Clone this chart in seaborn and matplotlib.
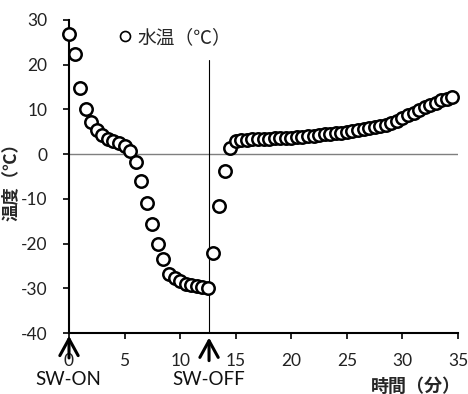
import matplotlib
matplotlib.use("Agg")
import matplotlib.pyplot as plt
from matplotlib.lines import Line2D
import seaborn as sns
import pandas as pd

# ---- data ----
time_min = [0.0, 0.5, 1.0, 1.5, 2.0, 2.5, 3.0, 3.5, 4.0, 4.5,
            5.0, 5.5, 6.0, 6.5, 7.0, 7.5, 8.0, 8.5, 9.0, 9.5,
            10.0, 10.5, 11.0, 11.5, 12.0, 12.5, 13.0, 13.5, 14.0, 14.5,
            15.0, 15.5, 16.0, 16.5, 17.0, 17.5, 18.0, 18.5, 19.0, 19.5,
            20.0, 20.5, 21.0, 21.5, 22.0, 22.5, 23.0, 23.5, 24.0, 24.5,
            25.0, 25.5, 26.0, 26.5, 27.0, 27.5, 28.0, 28.5, 29.0, 29.5,
            30.0, 30.5, 31.0, 31.5, 32.0, 32.5, 33.0, 33.5, 34.0, 34.5]
water_temp = [26.9, 22.3, 14.9, 10.0, 7.2, 5.5, 4.2, 3.3, 2.9, 2.4,
              1.8, 0.7, -1.8, -6.0, -10.9, -15.7, -20.0, -23.4, -26.8, -27.8,
              -28.4, -29.0, -29.3, -29.6, -29.8, -29.9, -22.2, -11.6, -3.8, 1.3,
              2.9, 3.1, 3.2, 3.3, 3.3, 3.4, 3.4, 3.5, 3.5, 3.6,
              3.7, 3.8, 3.9, 4.0, 4.1, 4.2, 4.4, 4.5, 4.7, 4.8,
              5.0, 5.2, 5.4, 5.6, 5.8, 6.0, 6.3, 6.6, 7.0, 7.5,
              8.1, 8.7, 9.3, 9.9, 10.5, 11.0, 11.5, 12.0, 12.4, 12.8]
series_label = "水温（℃）"
x_ticks = [0, 5, 10, 15, 20, 25, 30, 35]
y_ticks = [-40, -30, -20, -10, 0, 10, 20, 30]
sw_on_time = 0.0
sw_off_time = 12.6
x_label = "時間（分）"
y_label = "温度（℃）"
sw_labels = ["SW-ON", "SW-OFF"]

df = pd.DataFrame({"time": time_min, "temp": water_temp})

sns.set_theme(style="white")
plt.rcParams["font.family"] = ["Lato", "Noto Sans CJK JP", "DejaVu Sans"]
plt.rcParams["axes.unicode_minus"] = False

fig = plt.figure(figsize=(4.68, 3.94), dpi=100)
ax = fig.add_axes([69 / 468, 1 - 333 / 394, (458 - 69) / 468, (333 - 20) / 394])

ax.axhline(0, color="#7f7f7f", lw=1.0, zorder=1)
ax.plot([sw_off_time, sw_off_time], [-40, 21], color="black", lw=0.8, zorder=1)

sns.scatterplot(data=df, x="time", y="temp", ax=ax, marker="o", s=80,
                facecolor="white", edgecolor="black", linewidth=1.8,
                zorder=3, legend=False, clip_on=False)

ax.set_xlim(0, 35)
ax.set_ylim(-40, 30)
ax.set_xticks(x_ticks)
ax.set_yticks(y_ticks)
ax.set_xticklabels([str(v) for v in x_ticks])
ax.set_yticklabels([str(v) for v in y_ticks])
ax.set_xlabel("")
ax.set_ylabel("")

for side in ["top", "right"]:
    ax.spines[side].set_visible(False)
for side in ["left", "bottom"]:
    ax.spines[side].set_color("black")
    ax.spines[side].set_linewidth(1.5)

ax.tick_params(axis="both", which="major", direction="out", length=4.5, width=1.2,
               color="black", labelsize=12.5, labelcolor="#222222")
ax.tick_params(axis="x", pad=10)
ax.tick_params(axis="y", pad=11, length=4.5)
ax.tick_params(left=True, bottom=True)

# legend
handle = Line2D([], [], marker="o", linestyle="none", markersize=7.2,
                markerfacecolor="white", markeredgecolor="black", markeredgewidth=1.2)
leg = ax.legend([handle], [series_label], loc="center left",
                bbox_to_anchor=(0.105, 0.945), frameon=False, handlelength=0.8,
                handletextpad=0.25, borderaxespad=0,
                prop={"family": ["Noto Sans CJK JP"], "size": 13.5})

# switch arrows
arrow_kw = dict(arrowstyle="->,head_length=1.0,head_width=0.55", color="black", lw=2.2)
ax.annotate("", xy=(sw_on_time, -40), xytext=(sw_on_time, -46.2),
            arrowprops=arrow_kw, annotation_clip=False)
ax.annotate("", xy=(sw_off_time, -40.4), xytext=(sw_off_time, -46.8),
            arrowprops=arrow_kw, annotation_clip=False)

tr = ax.get_xaxis_transform()
ax.text(sw_on_time - 0.1, -0.147, sw_labels[0], transform=tr, ha="center", va="center",
        fontsize=13.5, color="#111111")
ax.text(sw_off_time, -0.147, sw_labels[1], transform=tr, ha="center", va="center",
        fontsize=13.5, color="#111111")

fig.text(416 / 468, 1 - 386 / 394, x_label, ha="center", va="center",
         fontsize=13, fontweight="bold", family=["Noto Sans CJK JP"])
fig.text(11 / 468, 1 - 178 / 394, y_label, ha="center", va="center", rotation=90,
         fontsize=12.5, fontweight="bold", family=["Noto Sans CJK JP"])

fig.savefig("out.png", dpi=100)
